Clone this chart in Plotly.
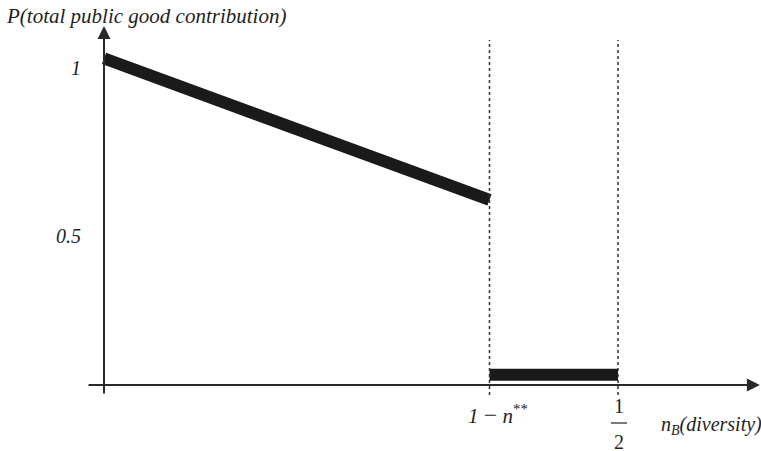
import plotly.graph_objects as go

# ---- data ----
n_threshold = 0.375          # position of "1 - n**" on the x axis
x_half = 0.5                 # position of "1/2"
decline_x = [0.0, n_threshold]
decline_y = [1.03, 0.584]
low_x = [n_threshold, x_half]
low_y = [0.032, 0.032]
y_tick_vals = [0.47, 1.0]
y_tick_labels = ["0.5", "1"]

# ---- layout constants ----
W, H = 761, 451
X_RANGE = [-0.10117, 0.63911]
Y_RANGE = [-0.20820, 1.21451]
INK = "#1a1a1a"
AXIS = "#2a2a2a"
FONT = "Liberation Serif"
TXT = "#1e1e1e"

fig = go.Figure()

fig.add_trace(go.Scatter(x=decline_x, y=decline_y, mode="lines",
                         line=dict(color=INK, width=12), hoverinfo="skip"))
fig.add_trace(go.Scatter(x=low_x, y=low_y, mode="lines",
                         line=dict(color=INK, width=12), hoverinfo="skip"))

# dotted guide lines
for xv in [n_threshold, x_half]:
    fig.add_shape(type="line", x0=xv, x1=xv, y0=-0.0315, y1=1.088,
                  xref="x", yref="y", line=dict(color="#333", width=1.5, dash="dot"))

annotations = []
# axes with arrowheads
annotations.append(dict(x=0.638, y=0, ax=-0.0165, ay=0, xref="x", yref="y",
                        axref="x", ayref="y", showarrow=True, arrowhead=2,
                        arrowsize=1.3, arrowwidth=2, arrowcolor=AXIS, text=""))
annotations.append(dict(x=0, y=1.1325, ax=0, ay=-0.0315, xref="x", yref="y",
                        axref="x", ayref="y", showarrow=True, arrowhead=2,
                        arrowsize=1.3, arrowwidth=2, arrowcolor=AXIS, text=""))

# y tick labels
for v, t in zip(y_tick_vals, y_tick_labels):
    annotations.append(dict(x=0, y=v, xref="x", yref="y", text="<i>%s</i>" % t,
                            showarrow=False, xanchor="right", yanchor="middle",
                            xshift=-21, font=dict(family=FONT, size=20, color=TXT)))

# y axis title
annotations.append(dict(x=4 / W, y=1 - 16 / H, xref="paper", yref="paper",
                        text="<i>P(total public good contribution)</i>", showarrow=False,
                        xanchor="left", yanchor="middle",
                        font=dict(family=FONT, size=21, color=TXT)))

# x labels
annotations.append(dict(x=n_threshold, y=0, xref="x", yref="y",
                        text="<i>1</i> <span style='font-size:24px'>−</span> <i>n</i><sup>**</sup>",
                        showarrow=False,
                        xanchor="center", yanchor="middle", xshift=8, yshift=-29,
                        font=dict(family=FONT, size=21, color=TXT)))
annotations.append(dict(x=x_half, y=0, xref="x", yref="y", text="1", showarrow=False,
                        xanchor="center", yanchor="middle", xshift=1, yshift=-21,
                        font=dict(family=FONT, size=20, color=TXT)))
annotations.append(dict(x=x_half, y=0, xref="x", yref="y", text="2", showarrow=False,
                        xanchor="center", yanchor="middle", xshift=1, yshift=-57,
                        font=dict(family=FONT, size=20, color=TXT)))
annotations.append(dict(x=x_half, y=0, xref="x", yref="y",
                        text="<i>n</i><sub><i>B</i></sub><i>(diversity)</i>",
                        showarrow=False, xanchor="left", yanchor="middle",
                        xshift=41, yshift=-40,
                        font=dict(family=FONT, size=20, color=TXT)))

# fraction bar
fig.add_shape(type="line", x0=x_half - 7 / 1028, x1=x_half + 9 / 1028,
              y0=-38 / 317, y1=-38 / 317, xref="x", yref="y",
              line=dict(color="#222", width=1.2))

fig.update_layout(
    width=W, height=H, margin=dict(l=0, r=0, t=0, b=0),
    paper_bgcolor="white", plot_bgcolor="white", showlegend=False,
    xaxis=dict(range=X_RANGE, visible=False, fixedrange=True),
    yaxis=dict(range=Y_RANGE, visible=False, fixedrange=True),
    annotations=annotations,
)

fig.write_html("out.html", config={"displayModeBar": False},
               post_script="document.body.style.margin='0';document.body.style.overflow='hidden';")
